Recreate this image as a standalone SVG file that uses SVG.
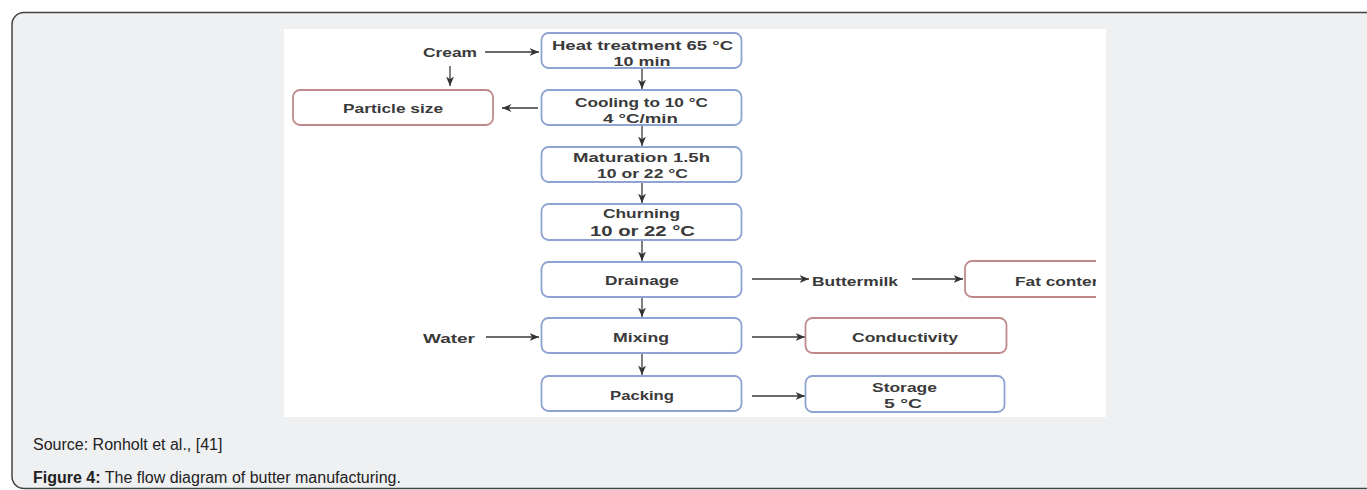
<svg xmlns="http://www.w3.org/2000/svg" width="1367" height="490" viewBox="0 0 1367 490">
<defs>
<marker id="ah" markerWidth="11" markerHeight="9" refX="9.5" refY="4.5" orient="auto" markerUnits="userSpaceOnUse">
<path d="M0,0.5 L9.5,4.5 L0,8.5 L2.8,4.5 Z" fill="#333"/>
</marker>
</defs>
<style>
.frame{fill:#eff0f2;stroke:#444;stroke-width:1.5}
.img{fill:#ffffff}
.bb{fill:#fff;stroke:#8ea3d2;stroke-width:1.8}
.rb{fill:#fff;stroke:#c08a8a;stroke-width:1.8}
.t{font-family:"Liberation Sans",Arial,sans-serif;font-weight:700;font-size:13.5px;fill:#3a3a3a;text-anchor:middle}
.tl{font-family:"Liberation Sans",Arial,sans-serif;font-weight:700;font-size:13.5px;fill:#3a3a3a}
.c{stroke:#3a3a3a;stroke-width:1.3;fill:none;marker-end:url(#ah)}
.cap{font-family:"Liberation Sans",Arial,sans-serif;font-size:16px;fill:#222}
</style>
<rect class="frame" x="12" y="12.5" width="1368" height="476" rx="12"/>
<rect class="img" x="284" y="29" width="822" height="388"/>

<g id="connectors">
<line class="c" x1="485" y1="52" x2="539" y2="52"/>
<line class="c" x1="450" y1="66" x2="450" y2="86"/>
<line class="c" x1="538" y1="108" x2="502" y2="108"/>
<line class="c" x1="642" y1="69" x2="642" y2="89"/>
<line class="c" x1="642" y1="126" x2="642" y2="146"/>
<line class="c" x1="642" y1="183" x2="642" y2="203"/>
<line class="c" x1="642" y1="241" x2="642" y2="261"/>
<line class="c" x1="642" y1="298" x2="642" y2="317"/>
<line class="c" x1="642" y1="354" x2="642" y2="375"/>
<line class="c" x1="486" y1="337" x2="539" y2="337"/>
<line class="c" x1="752" y1="279" x2="809" y2="279"/>
<line class="c" x1="912" y1="279" x2="963" y2="279"/>
<line class="c" x1="752" y1="337" x2="805" y2="337"/>
<line class="c" x1="752" y1="396" x2="805" y2="396"/>
</g>

<g id="cream"><text class="tl" x="423" y="57" textLength="54" lengthAdjust="spacingAndGlyphs">Cream</text></g>
<g id="water"><text class="tl" x="423" y="343" textLength="52" lengthAdjust="spacingAndGlyphs">Water</text></g>
<g id="buttermilk"><text class="tl" x="812" y="286" textLength="86" lengthAdjust="spacingAndGlyphs">Buttermilk</text></g>

<g id="heat"><rect class="bb" x="541.5" y="33" width="200" height="35" rx="7"/>
<text class="t" x="642.5" y="49.5" textLength="181" lengthAdjust="spacingAndGlyphs">Heat treatment 65 °C</text><text class="t" x="642" y="65.5" textLength="57" lengthAdjust="spacingAndGlyphs">10 min</text></g>
<g id="cooling"><rect class="bb" x="541.5" y="90" width="200" height="35" rx="7"/>
<text class="t" x="641.5" y="106.5" textLength="133" lengthAdjust="spacingAndGlyphs">Cooling to 10 °C</text><text class="t" x="640.5" y="122.5" textLength="75" lengthAdjust="spacingAndGlyphs">4 °C/min</text></g>
<g id="particle"><rect class="rb" x="293" y="90" width="200" height="35" rx="7"/>
<text class="t" x="393" y="113" textLength="100" lengthAdjust="spacingAndGlyphs">Particle size</text></g>
<g id="maturation"><rect class="bb" x="541.5" y="147" width="200" height="35" rx="7"/>
<text class="t" x="641.5" y="161.5" textLength="137" lengthAdjust="spacingAndGlyphs">Maturation 1.5h</text><text class="t" x="642.5" y="177.5" textLength="91" lengthAdjust="spacingAndGlyphs">10 or 22 °C</text></g>
<g id="churning"><rect class="bb" x="541.5" y="204" width="200" height="36" rx="7"/>
<text class="t" x="641.5" y="218" textLength="77" lengthAdjust="spacingAndGlyphs">Churning</text><text class="t" x="642.5" y="235.5" style="font-size:15px" textLength="105" lengthAdjust="spacingAndGlyphs">10 or 22 °C</text></g>
<g id="drainage"><rect class="bb" x="541.5" y="262" width="200" height="35" rx="7"/>
<text class="t" x="642" y="285" textLength="74" lengthAdjust="spacingAndGlyphs">Drainage</text></g>
<g id="fat"><svg x="0" y="0" width="1096" height="490" overflow="hidden"><rect class="rb" x="965" y="261" width="200" height="36" rx="7"/>
<text class="tl" x="1015" y="286" textLength="93" lengthAdjust="spacingAndGlyphs">Fat content</text></svg></g>
<g id="mixing"><rect class="bb" x="541.5" y="318" width="200" height="35" rx="7"/>
<text class="t" x="641" y="342" textLength="56" lengthAdjust="spacingAndGlyphs">Mixing</text></g>
<g id="conductivity"><rect class="rb" x="805.5" y="318" width="201" height="35" rx="7"/>
<text class="t" x="905" y="342" textLength="106" lengthAdjust="spacingAndGlyphs">Conductivity</text></g>
<g id="packing"><rect class="bb" x="541.5" y="376" width="200" height="35" rx="7"/>
<text class="t" x="642" y="400" textLength="64" lengthAdjust="spacingAndGlyphs">Packing</text></g>
<g id="storage"><rect class="bb" x="805.5" y="376" width="199" height="36" rx="7"/>
<text class="t" x="904.5" y="392" textLength="65" lengthAdjust="spacingAndGlyphs">Storage</text><text class="t" x="903" y="408" textLength="38" lengthAdjust="spacingAndGlyphs">5 °C</text></g>

<text class="cap" x="33" y="450">Source: Ronholt et al., [41]</text>
<text class="cap" x="33" y="483"><tspan font-weight="700">Figure 4:</tspan> The flow diagram of butter manufacturing.</text>
</svg>
